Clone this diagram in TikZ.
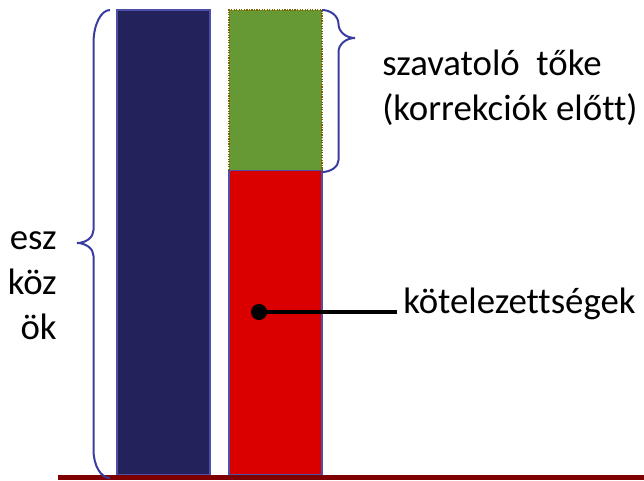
\documentclass[tikz,border=0pt]{standalone}
\usepackage{fontspec}
\setmainfont[Ligatures=NoCommon]{Carlito}
\usetikzlibrary{positioning}
\definecolor{EszkozKek}{HTML}{24225A}
\definecolor{KeretKek}{HTML}{4C50A8}
\definecolor{TokeZold}{HTML}{669933}
\definecolor{KotelPiros}{HTML}{DA0000}
\definecolor{AlapBordo}{HTML}{7F0000}
\definecolor{ZarojelKek}{HTML}{3A3DA0}
\definecolor{PontBarna}{HTML}{7F6000}

\begin{document}
\begin{tikzpicture}[x=0.75pt, y=-0.75pt,
    felirat/.style={inner sep=0pt, font=\fontsize{27.6}{33.75}\selectfont},
    zarojel/.style={ZarojelKek, line width=1.5pt}]
    \useasboundingbox (0,0) rectangle (644,480);
    % oszlopok
    \filldraw[fill=EszkozKek, draw=KeretKek, line width=1.1pt] (117,10) rectangle (210,475);
    \filldraw[fill=KotelPiros, draw=KeretKek, line width=1.1pt] (229,170) rectangle (322,475);
    \fill[TokeZold] (229,10) rectangle (322,170);
    \draw[PontBarna, densely dotted, line width=0.9pt] (229,170) |- (322,10) -- (322,170);
    \draw[AlapBordo, line width=3.8pt] (58,477.5) -- (644,477.5);
    % zarojelek
    \draw[zarojel] (110,10) .. controls (100.9,10) and (93.5,24.8) .. (93.5,43)
        -- (93.5,230) .. controls (93.5,237.2) and (86.1,243) .. (77,243)
        .. controls (86.1,243) and (93.5,248.8) .. (93.5,256)
        -- (93.5,450) .. controls (93.5,465.5) and (100.9,478) .. (110,478);
    \draw[zarojel] (322,10) .. controls (331,10) and (338.5,16.3) .. (338.5,24)
        .. controls (338.5,31.7) and (345.9,38) .. (355,38)
        .. controls (345.9,38) and (338.5,44.3) .. (338.5,52)
        -- (338.5,160) .. controls (338.5,166.6) and (331,172) .. (322,172);
    % feliratok
    \foreach \szo/\yy [count=\i] in {esz/249, köz/294, ök/339}
        \node[felirat, anchor=base east] (eszkoz\i) at (57,\yy) {\szo};
    \node[felirat, anchor=base west] (toke1) at (382,75) {szavatoló\ \ tőke};
    \node[felirat, anchor=base west] (toke2) at (382,120) {(korrekciók előtt)};
    \node[felirat, anchor=base west] (kotel) at (403,313) {kötelezettségek};
    \coordinate (pont) at (259,312);
    \draw[line width=2.6pt] (pont) -- ([xshift=-4.5pt, yshift=0.75pt]kotel.base west);
    \fill (pont) circle (6pt);
\end{tikzpicture}
\end{document}
